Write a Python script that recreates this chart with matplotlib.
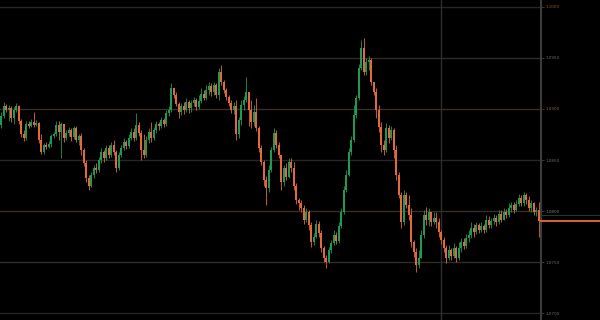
import numpy as np
import matplotlib
matplotlib.use("Agg")
import matplotlib.pyplot as plt

first_open = 1.0884

close = [
 1.0893,1.0903,1.0899,1.0901,1.0891,1.0899,1.0903,1.0888,1.0875,1.0872,1.0885,1.0883,
 1.0887,1.0884,1.0886,1.0870,1.0858,1.0865,1.0863,1.0866,1.0874,1.0875,1.0884,1.0877,
 1.0885,1.0872,1.0876,1.0879,1.0873,1.0881,1.0870,1.0874,1.0860,1.0847,1.0832,1.0825,
 1.0835,1.0842,1.0840,1.0850,1.0858,1.0852,1.0862,1.0855,1.0865,1.0858,1.0842,1.0855,
 1.0862,1.0868,1.0864,1.0872,1.0877,1.0872,1.0884,1.0876,1.0860,1.0855,1.0870,1.0877,
 1.0872,1.0879,1.0885,1.0883,1.0889,1.0885,1.0896,1.0899,1.0921,1.0914,1.0905,1.0897,
 1.0903,1.0899,1.0907,1.0901,1.0906,1.0909,1.0902,1.0908,1.0915,1.0911,1.0919,1.0923,
 1.0917,1.0924,1.0914,1.0936,1.0926,1.0919,1.0912,1.0906,1.0899,1.0903,1.0875,1.0889,
 1.0904,1.0909,1.0917,1.0899,1.0887,1.0897,1.0881,1.0862,1.0848,1.0830,1.0823,1.0840,
 1.0860,1.0876,1.0865,1.0855,1.0828,1.0842,1.0833,1.0848,1.0842,1.0825,1.0811,1.0808,
 1.0803,1.0791,1.0799,1.0786,1.0770,1.0775,1.0787,1.0778,1.0764,1.0754,1.0750,1.0762,
 1.0769,1.0776,1.0771,1.0785,1.0799,1.0821,1.0835,1.0858,1.0870,1.0894,1.0911,1.0940,
 1.0960,1.0936,1.0946,1.0948,1.0926,1.0917,1.0899,1.0882,1.0865,1.0860,1.0881,1.0872,
 1.0879,1.0860,1.0835,1.0816,1.0789,1.0816,1.0806,1.0796,1.0770,1.0760,1.0747,1.0754,
 1.0776,1.0796,1.0791,1.0799,1.0789,1.0793,1.0789,1.0779,1.0772,1.0764,1.0754,1.0762,
 1.0756,1.0764,1.0754,1.0764,1.0770,1.0766,1.0774,1.0776,1.0783,1.0779,1.0786,1.0781,
 1.0785,1.0781,1.0791,1.0786,1.0790,1.0793,1.0789,1.0797,1.0791,1.0799,1.0796,1.0803,
 1.0806,1.0801,1.0807,1.0813,1.0808,1.0816,1.0811,1.0803,1.0808,1.0799,1.0801,1.0790,
]

high = [
 1.0897,1.0907,1.0905,1.0904,1.0903,1.0902,1.0906,1.0904,1.0890,1.0879,1.0888,1.0888,
 1.0890,1.0897,1.0889,1.0887,1.0875,1.0867,1.0868,1.0869,1.0875,1.0877,1.0888,1.0888,
 1.0887,1.0882,1.0879,1.0882,1.0881,1.0883,1.0883,1.0875,1.0876,1.0862,1.0850,1.0835,
 1.0838,1.0845,1.0847,1.0853,1.0862,1.0860,1.0865,1.0865,1.0868,1.0870,1.0860,1.0858,
 1.0865,1.0872,1.0870,1.0875,1.0881,1.0881,1.0896,1.0887,1.0879,1.0875,1.0874,1.0881,
 1.0887,1.0882,1.0888,1.0887,1.0892,1.0891,1.0899,1.0903,1.0925,1.0921,1.0917,1.0907,
 1.0906,1.0907,1.0911,1.0909,1.0909,1.0912,1.0911,1.0914,1.0921,1.0919,1.0924,1.0926,
 1.0925,1.0926,1.0925,1.0940,1.0943,1.0928,1.0921,1.0914,1.0909,1.0907,1.0909,1.0892,
 1.0909,1.0913,1.0931,1.0917,1.0909,1.0904,1.0911,1.0883,1.0865,1.0850,1.0834,1.0845,
 1.0863,1.0881,1.0879,1.0868,1.0855,1.0845,1.0847,1.0852,1.0852,1.0848,1.0827,1.0813,
 1.0811,1.0806,1.0803,1.0801,1.0789,1.0778,1.0791,1.0790,1.0781,1.0766,1.0757,1.0765,
 1.0772,1.0781,1.0779,1.0789,1.0803,1.0825,1.0840,1.0862,1.0874,1.0904,1.0914,1.0944,
 1.0968,1.0970,1.0950,1.0952,1.0950,1.0926,1.0921,1.0904,1.0887,1.0870,1.0886,1.0884,
 1.0883,1.0881,1.0865,1.0838,1.0819,1.0821,1.0819,1.0816,1.0803,1.0772,1.0764,1.0762,
 1.0781,1.0801,1.0804,1.0803,1.0798,1.0799,1.0799,1.0793,1.0781,1.0775,1.0767,1.0767,
 1.0764,1.0769,1.0766,1.0770,1.0774,1.0774,1.0777,1.0781,1.0789,1.0787,1.0789,1.0788,
 1.0789,1.0787,1.0796,1.0795,1.0793,1.0797,1.0796,1.0801,1.0801,1.0803,1.0802,1.0808,
 1.0809,1.0809,1.0811,1.0817,1.0816,1.0819,1.0818,1.0815,1.0811,1.0809,1.0804,1.0809,
]

low = [
 1.0881,1.0891,1.0897,1.0888,1.0887,1.0885,1.0897,1.0885,1.0873,1.0869,1.0870,1.0881,
 1.0882,1.0882,1.0883,1.0867,1.0856,1.0856,1.0861,1.0862,1.0863,1.0872,1.0874,1.0870,
 1.0852,1.0868,1.0870,1.0874,1.0869,1.0871,1.0868,1.0865,1.0855,1.0844,1.0828,1.0821,
 1.0824,1.0832,1.0837,1.0838,1.0847,1.0848,1.0850,1.0852,1.0853,1.0855,1.0838,1.0840,
 1.0853,1.0860,1.0861,1.0862,1.0870,1.0869,1.0870,1.0874,1.0850,1.0852,1.0853,1.0867,
 1.0868,1.0870,1.0876,1.0879,1.0881,1.0882,1.0883,1.0893,1.0897,1.0911,1.0903,1.0891,
 1.0894,1.0895,1.0897,1.0896,1.0897,1.0903,1.0899,1.0900,1.0906,1.0909,1.0909,1.0914,
 1.0913,1.0914,1.0911,1.0909,1.0924,1.0916,1.0909,1.0903,1.0896,1.0895,1.0870,1.0872,
 1.0884,1.0899,1.0907,1.0883,1.0881,1.0883,1.0878,1.0858,1.0845,1.0825,1.0806,1.0819,
 1.0838,1.0858,1.0862,1.0852,1.0821,1.0825,1.0830,1.0832,1.0838,1.0821,1.0807,1.0801,
 1.0799,1.0787,1.0789,1.0781,1.0765,1.0767,1.0774,1.0775,1.0760,1.0750,1.0744,1.0749,
 1.0759,1.0767,1.0768,1.0769,1.0783,1.0797,1.0819,1.0834,1.0855,1.0868,1.0891,1.0909,
 1.0938,1.0933,1.0933,1.0938,1.0924,1.0914,1.0891,1.0877,1.0858,1.0855,1.0858,1.0867,
 1.0870,1.0852,1.0830,1.0813,1.0783,1.0786,1.0803,1.0791,1.0765,1.0755,1.0740,1.0744,
 1.0754,1.0774,1.0786,1.0785,1.0785,1.0787,1.0783,1.0775,1.0768,1.0760,1.0749,1.0752,
 1.0752,1.0754,1.0750,1.0752,1.0760,1.0763,1.0764,1.0770,1.0774,1.0775,1.0777,1.0778,
 1.0779,1.0778,1.0779,1.0783,1.0783,1.0787,1.0785,1.0787,1.0789,1.0791,1.0793,1.0794,
 1.0799,1.0798,1.0800,1.0805,1.0805,1.0805,1.0807,1.0800,1.0799,1.0796,1.0795,1.0775,
]

price_ticks = [1.1000, 1.0950, 1.0900, 1.0850, 1.0800, 1.0750, 1.0700]
tick_labels = ["1.1000", "1.0950", "1.0900", "1.0850", "1.0800", "1.0750", "1.0700"]
ask_price = 1.0796
divider_index = 176

close = np.array(close)
high = np.array(high)
low = np.array(low)
opens = np.concatenate([[first_open], close[:-1]])
high = np.maximum(high, np.maximum(opens, close))
low = np.minimum(low, np.minimum(opens, close))
n = len(close)
idx = np.arange(n)

BG = "#000000"
UP = "#1e9a52"
DN = "#e4693a"

fig = plt.figure(figsize=(6, 3.2), dpi=100, facecolor=BG)
ax = fig.add_axes([0, 0, 541 / 600, 1])
ax.set_facecolor(BG)

xmin, xmax = -0.5, 541 / 2.5 - 0.5
ax.set_xlim(xmin, xmax)
ax.set_ylim(1.069314, 1.100686)

grid_cols = ["#262626", "#332c26", "#3a2e24", "#262626", "#3a2e24", "#332c26", "#262626"]
for p, gc in zip(price_ticks, grid_cols):
    ax.axhline(p, color=gc, lw=1.0, zorder=0)
ax.axvline(divider_index, color="#2e2e2e", lw=1.0, zorder=0)

up = close >= opens
colors = np.where(up, UP, DN)
ax.vlines(idx, low, high, colors=colors, lw=0.6, zorder=2)
bottom = np.minimum(opens, close)
height = np.maximum(np.abs(close - opens), 0.00008)
ax.bar(idx, height, bottom=bottom, width=0.62, color=colors, linewidth=0, zorder=3)

# price lines in the right margin
trans = ax.get_yaxis_transform()
ax.plot([1.0, 600 / 541], [ask_price, ask_price], transform=trans, color="#1f3a2a",
        lw=0.8, clip_on=False, zorder=4)
ax.plot([1.0, 600 / 541], [close[-1], close[-1]], transform=trans, color="#e0603a",
        lw=1.4, clip_on=False, zorder=5)

for s in ["top", "left", "bottom"]:
    ax.spines[s].set_visible(False)
ax.spines["right"].set_color("#3c3c3c")
ax.spines["right"].set_linewidth(1.5)
ax.set_xticks([])
ax.yaxis.tick_right()
ax.set_yticks(price_ticks)
ax.set_yticklabels(tick_labels)
ax.tick_params(axis="y", colors="#444444", length=2, width=0.6, labelsize=3, pad=1.5)
lab_cols = ["#9a5a2a", "#6a6a6a", "#9a5a2a", "#6a6a6a", "#7a7a7a", "#6a6a6a", "#6a6a6a"]
for t, c in zip(ax.get_yticklabels(), lab_cols):
    t.set_color(c)

fig.savefig("out.png", dpi=100, facecolor=BG)
